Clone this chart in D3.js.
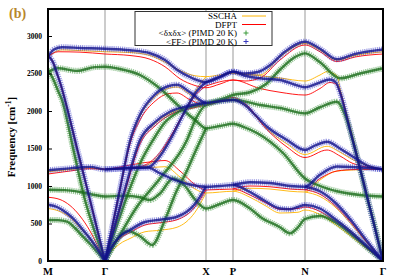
<!DOCTYPE html>
<html>
<head>
<meta charset="utf-8">
<style>
  body { margin: 0; background: #fff; }
  svg text { font-family: "Liberation Serif", "DejaVu Serif", serif; }
</style>
</head>
<body>
<div id="chart"></div>
<script src="https://d3js.org/d3.v7.min.js"></script>
<script>
// high symmetry points along the k path (arbitrary path units)
var hsLabels = ["M", "\u0393", "X", "P", "N", "\u0393"];
var hsPos = [0, 0.57, 1.58, 1.85, 2.57, 3.35];
var yTicks = [0, 500, 1000, 1500, 2000, 2500, 3000];
var legendNames = ["SSCHA", "DFPT", "<\u03b4x\u03b4x> (PIMD 20 K)", "<FF> (PIMD 20 K)"];

// <FF> (PIMD 20 K) branches, [k, freq]
var ffBands = [
  [[0,2724],[.06,2820],[.14,2850],[.32,2840],[.57,2830],[.82,2810],[1.02,2770],[1.17,2680],[1.29,2550],[1.44,2440],[1.58,2385],[1.72,2450],[1.85,2524],[1.97,2500],[2.10,2520],[2.22,2610],[2.37,2790],[2.57,2924],[2.72,2830],[2.89,2690],[3.07,2760],[3.35,2820]],
  [[0,2724],[.02,2710],[.05,2650],[.09,2500],[.13,2340],[.17,2147],[.30,1450],[.42,813],[.57,0]],
  [[.57,0],[.64,440],[.72,960],[.82,1600],[.92,1950],[1.07,2220],[1.20,2330],[1.29,2350],[1.42,2250],[1.58,2110],[1.72,2130],[1.85,2147],[1.97,2080],[2.07,1950],[2.19,1790],[2.39,1613],[2.57,1480],[2.67,1540],[2.79,1590],[2.92,1500],[3.05,1390],[3.22,1257],[3.35,1222]],
  [[.57,0],[.67,480],[.77,960],[.92,1613],[1.07,1850],[1.22,1990],[1.42,2070],[1.58,2110]],
  [[.57,1222],[.82,1240],[1.00,1250],[1.12,1400],[1.22,1613],[1.37,2000],[1.48,2250],[1.58,2385]],
  [[0,1210],[.22,1235],[.42,1255],[.57,1222],[.82,1240],[1.00,1245],[1.12,1170],[1.27,1080],[1.42,1020],[1.58,990],[1.72,1000],[1.85,1013],[2.02,920],[2.17,800],[2.32,700],[2.42,690],[2.50,720],[2.57,747],[2.72,700],[2.87,560],[3.02,400],[3.17,220],[3.35,0]],
  [[0,750],[.09,720],[.19,636],[.27,540],[.35,413],[.42,300],[.49,170],[.57,0]],
  [[.57,0],[.62,150],[.72,330],[.82,413],[.97,520],[1.12,550],[1.29,590],[1.47,760],[1.58,990]],
  [[1.58,2385],[1.72,2460],[1.85,2524],[1.97,2470],[2.12,2436],[2.32,2413],[2.47,2350],[2.57,2316],[2.70,2370],[2.82,2420],[2.88,2380],[2.92,2250],[3.02,1750],[3.15,1080],[3.25,540],[3.35,0]],
  [[1.85,1013],[2.02,1050],[2.22,1040],[2.42,1000],[2.57,990],[2.72,1150],[2.89,1260],[3.07,1250],[3.35,1222]],
  [[2.57,990],[2.72,930],[2.87,780],[3.02,560],[3.17,300],[3.35,0]]
];

// <dx dx> (PIMD 20 K) branches
var dxBands = [
  [[0,2520],[.10,2570],[.29,2535],[.47,2585],[.57,2590],[.72,2560],[.92,2480],[1.12,2300],[1.32,2050],[1.47,1880],[1.58,1770],[1.72,1800],[1.85,1830],[1.97,1780],[2.09,1707],[2.35,1440],[2.57,1100],[2.72,1000],[2.89,930],[3.12,880],[3.35,860]],
  [[0,2520],[.03,2480],[.07,2370],[.10,2270],[.14,2147],[.26,1450],[.37,813],[.47,380],[.57,0]],
  [[0,950],[.17,945],[.32,920],[.47,880],[.57,860],[.77,870],[.92,850],[1.02,813],[1.12,900],[1.25,1100],[1.37,1000],[1.47,820],[1.58,700],[1.72,760],[1.85,813],[2.02,700],[2.12,591],[2.32,450],[2.42,369],[2.50,450],[2.57,560],[2.72,600],[2.87,520],[3.02,370],[3.17,200],[3.35,0]],
  [[0,547],[.10,545],[.19,524],[.27,440],[.35,324],[.42,230],[.49,124],[.57,0]],
  [[.57,0],[.67,400],[.80,900],[.92,1300],[1.05,1613],[1.17,1850],[1.32,2000],[1.58,2100],[1.72,2150],[1.85,2213],[2.02,2250],[2.17,2350],[2.32,2550],[2.47,2720],[2.57,2769],[2.72,2650],[2.92,2436],[3.12,2500],[3.35,2569]],
  [[.57,0],[.72,350],[.89,724],[1.12,1100],[1.39,1613],[1.48,1900],[1.58,2080],[1.85,2150],[2.12,2080],[2.32,2040],[2.57,1969],[2.72,2050],[2.89,2124],[2.97,1950],[3.07,1500],[3.17,950],[3.27,450],[3.35,0]],
  [[.57,0],[.67,250],[.80,400],[.92,330],[1.04,213],[1.17,550],[1.29,947],[1.37,1150],[1.47,1450],[1.58,1770]]
];

// DFPT branches
var dfptBands = [
  [[0,2724],[.10,2790],[.32,2785],[.57,2760],[.82,2740],[1.02,2690],[1.17,2590],[1.32,2430],[1.47,2340],[1.58,2310],[1.72,2360],[1.85,2413],[1.97,2400],[2.12,2440],[2.32,2680],[2.57,2880],[2.72,2790],[2.89,2660],[3.07,2720],[3.35,2760]],
  [[0,2724],[.02,2710],[.05,2650],[.09,2500],[.13,2340],[.17,2147],[.30,1450],[.42,813],[.57,0]],
  [[.57,0],[.64,440],[.72,960],[.82,1560],[.92,1880],[1.07,2130],[1.20,2230],[1.29,2240],[1.42,2150],[1.58,2080],[1.85,2180],[1.97,2100],[2.19,1750],[2.39,1520],[2.57,1380],[2.79,1480],[2.92,1400],[3.05,1300],[3.35,1225]],
  [[.57,0],[.67,460],[.77,920],[.92,1560],[1.07,1800],[1.22,1950],[1.42,2030],[1.58,2080]],
  [[.57,1225],[.92,1260],[1.12,1450],[1.22,1650],[1.37,2000],[1.48,2220],[1.58,2333]],
  [[0,1160],[.22,1200],[.42,1230],[.57,1225],[.82,1280],[1.07,1330],[1.17,1340],[1.32,1200],[1.47,1020],[1.58,947],[1.85,960],[2.02,880],[2.17,780],[2.32,690],[2.50,700],[2.57,720],[2.72,660],[2.87,530],[3.02,380],[3.17,200],[3.35,0]],
  [[0,850],[.12,820],[.22,740],[.32,600],[.42,400],[.49,220],[.57,0]],
  [[.57,0],[.62,130],[.72,300],[.82,380],[.97,480],[1.12,510],[1.29,550],[1.47,720],[1.58,947]],
  [[1.58,2333],[1.85,2413],[2.12,2300],[2.32,2250],[2.57,2213],[2.72,2300],[2.82,2380],[2.88,2360],[2.92,2250],[3.02,1750],[3.15,1080],[3.25,540],[3.35,0]],
  [[1.85,960],[2.02,1000],[2.22,990],[2.42,960],[2.57,950],[2.72,1100],[2.89,1200],[3.07,1220],[3.35,1225]],
  [[2.57,950],[2.72,890],[2.87,740],[3.02,530],[3.17,280],[3.35,0]]
];

// SSCHA branches
var sschaBands = [
  [[0,2724],[.14,2815],[.32,2805],[.57,2790],[.82,2780],[1.02,2740],[1.17,2650],[1.32,2540],[1.47,2470],[1.58,2458],[1.72,2480],[1.85,2500],[2.12,2480],[2.32,2720],[2.57,2900],[2.72,2810],[2.89,2680],[3.07,2740],[3.35,2790]],
  [[0,2724],[.02,2710],[.05,2650],[.09,2500],[.13,2340],[.17,2147],[.30,1450],[.42,813],[.57,0]],
  [[.57,0],[.64,440],[.72,960],[.82,1590],[.92,1930],[1.07,2190],[1.20,2300],[1.29,2320],[1.42,2220],[1.58,2100],[1.85,2150],[1.97,2070],[2.19,1760],[2.39,1560],[2.57,1420],[2.79,1530],[2.92,1450],[3.05,1350],[3.35,1222]],
  [[.57,0],[.67,470],[.77,940],[.92,1590],[1.07,1830],[1.22,1970],[1.42,2050],[1.58,2100]],
  [[.57,1222],[.92,1250],[1.12,1420],[1.22,1630],[1.37,2000],[1.48,2280],[1.58,2458]],
  [[0,1190],[.22,1220],[.42,1240],[.57,1222],[.82,1240],[1.07,1250],[1.17,1257],[1.32,1120],[1.47,960],[1.58,907],[1.85,930],[2.02,850],[2.17,740],[2.32,640],[2.50,650],[2.57,680],[2.72,620],[2.87,490],[3.02,340],[3.17,180],[3.35,0]],
  [[0,700],[.12,660],[.22,580],[.32,440],[.42,300],[.49,160],[.57,0]],
  [[.57,0],[.62,100],[.72,230],[.82,300],[.97,390],[1.12,410],[1.29,450],[1.47,650],[1.58,907]],
  [[1.85,2500],[2.12,2470],[2.32,2440],[2.57,2400],[2.72,2480],[2.79,2524],[2.89,2470],[2.92,2300],[3.02,1800],[3.15,1100],[3.25,560],[3.35,0]],
  [[1.85,930],[2.02,970],[2.22,960],[2.42,930],[2.57,920],[2.72,1080],[2.89,1200],[3.07,1215],[3.35,1222]],
  [[2.57,920],[2.72,860],[2.87,720],[3.02,510],[3.17,270],[3.35,0]]
];

var W = 399, H = 279;
var margin = {left: 48, right: 16, top: 9, bottom: 18};

var svg = d3.select("#chart").append("svg")
    .attr("width", W)
    .attr("height", H);

var x = d3.scaleLinear()
    .domain([hsPos[0], hsPos[hsPos.length - 1]])
    .range([margin.left, W - margin.right]);

var y = d3.scaleLinear()
    .domain([0, 3360])
    .range([H - margin.bottom, margin.top]);

var line = d3.line()
    .x(function(d) { return x(d[0]); })
    .y(function(d) { return y(d[1]); })
    .curve(d3.curveMonotoneX);

svg.append("clipPath").attr("id", "clip")
  .append("rect")
    .attr("x", x.range()[0]).attr("y", y.range()[1])
    .attr("width", x.range()[1] - x.range()[0])
    .attr("height", y.range()[0] - y.range()[1]);

// vertical lines at high symmetry points
svg.append("g")
  .selectAll("line")
  .data(hsPos.slice(1, -1))
  .enter().append("line")
    .attr("x1", function(d) { return x(d); })
    .attr("x2", function(d) { return x(d); })
    .attr("y1", y.range()[0])
    .attr("y2", y.range()[1])
    .attr("stroke", "#999")
    .attr("stroke-width", 1);

var plot = svg.append("g").attr("clip-path", "url(#clip)");

function drawLines(bands, col) {
  plot.append("g").selectAll("path")
    .data(bands)
    .enter().append("path")
      .attr("d", line)
      .attr("fill", "none")
      .attr("stroke", col)
      .attr("stroke-width", 0.9);
}

// points drawn as dense crosses: a dashed wide stroke + a thin core
function drawPimd(bands, outer, inner) {
  var g = plot.append("g");
  g.selectAll("path.o")
    .data(bands)
    .enter().append("path")
      .attr("class", "o")
      .attr("d", line)
      .attr("fill", "none")
      .attr("stroke", outer)
      .attr("stroke-width", 6)
      .attr("stroke-opacity", 0.5)
      .attr("stroke-dasharray", "1.2 0.9");
  g.selectAll("path.i")
    .data(bands)
    .enter().append("path")
      .attr("class", "i")
      .attr("d", line)
      .attr("fill", "none")
      .attr("stroke", inner)
      .attr("stroke-width", 2.4)
      .attr("stroke-opacity", 0.8);
}

drawLines(sschaBands, "#ffb400");
drawLines(dfptBands, "#ff0000");
drawPimd(dxBands, "#2f8f2f", "#1a6b1a");
drawPimd(ffBands, "#3c3cc8", "#12128a");

// frame
svg.append("rect")
    .attr("x", x.range()[0]).attr("y", y.range()[1])
    .attr("width", x.range()[1] - x.range()[0])
    .attr("height", y.range()[0] - y.range()[1])
    .attr("fill", "none")
    .attr("stroke", "#000")
    .attr("stroke-width", 2);

// y axis
var yAxis = svg.append("g")
    .attr("transform", "translate(" + x.range()[0] + ",0)")
    .call(d3.axisLeft(y).tickValues(yTicks).tickFormat(d3.format("d")).tickSize(-4).tickPadding(6));
yAxis.select(".domain").remove();
yAxis.selectAll("text")
    .style("font-family", "Liberation Serif")
    .style("font-weight", "bold")
    .style("font-size", "7.5px");

var yl = svg.append("text")
    .attr("transform", "translate(15," + ((y.range()[1] + y.range()[0]) / 2 + 2) + ") rotate(-90)")
    .attr("text-anchor", "middle")
    .style("font-weight", "bold")
    .style("font-size", "11px");
yl.append("tspan").text("Frequency [cm");
yl.append("tspan").attr("dy", -4).style("font-size", "7.5px").text("-1");
yl.append("tspan").attr("dy", 4).text("]");

// x labels
svg.append("g").selectAll("text")
  .data(hsPos)
  .enter().append("text")
    .attr("x", function(d) { return x(d); })
    .attr("y", H - 4)
    .attr("text-anchor", "middle")
    .style("font-weight", "bold")
    .style("font-size", "10.5px")
    .text(function(d, i) { return hsLabels[i]; });

svg.append("text")
    .attr("x", 9).attr("y", 18)
    .style("font-weight", "bold")
    .style("font-size", "14px")
    .attr("fill", "#b8862c")
    .text("(b)");

// legend
var lg = svg.append("g");
lg.append("rect")
    .attr("x", 135).attr("y", 11.5)
    .attr("width", 137).attr("height", 34)
    .attr("fill", "#fff")
    .attr("stroke", "#333")
    .attr("stroke-width", 1);
var legCols = ["#ffb400", "#ff0000", "#3a9a3a", "#3a3ac0"];
legendNames.forEach(function(name, i) {
  var ly = 16 + i * 8.5;
  lg.append("text")
      .attr("x", 237).attr("y", ly + 3)
      .attr("text-anchor", "end")
      .style("font-size", "9px")
      .text(name);
  if (i < 2) {
    lg.append("line")
        .attr("x1", 242).attr("x2", 266)
        .attr("y1", ly).attr("y2", ly)
        .attr("stroke", legCols[i]).attr("stroke-width", 1);
  } else {
    lg.append("path")
        .attr("d", "M" + 243.5 + "," + ly + "h5M" + 246 + "," + (ly - 2.5) + "v5")
        .attr("stroke", legCols[i]).attr("stroke-width", 1);
  }
});
</script>
</body>
</html>
